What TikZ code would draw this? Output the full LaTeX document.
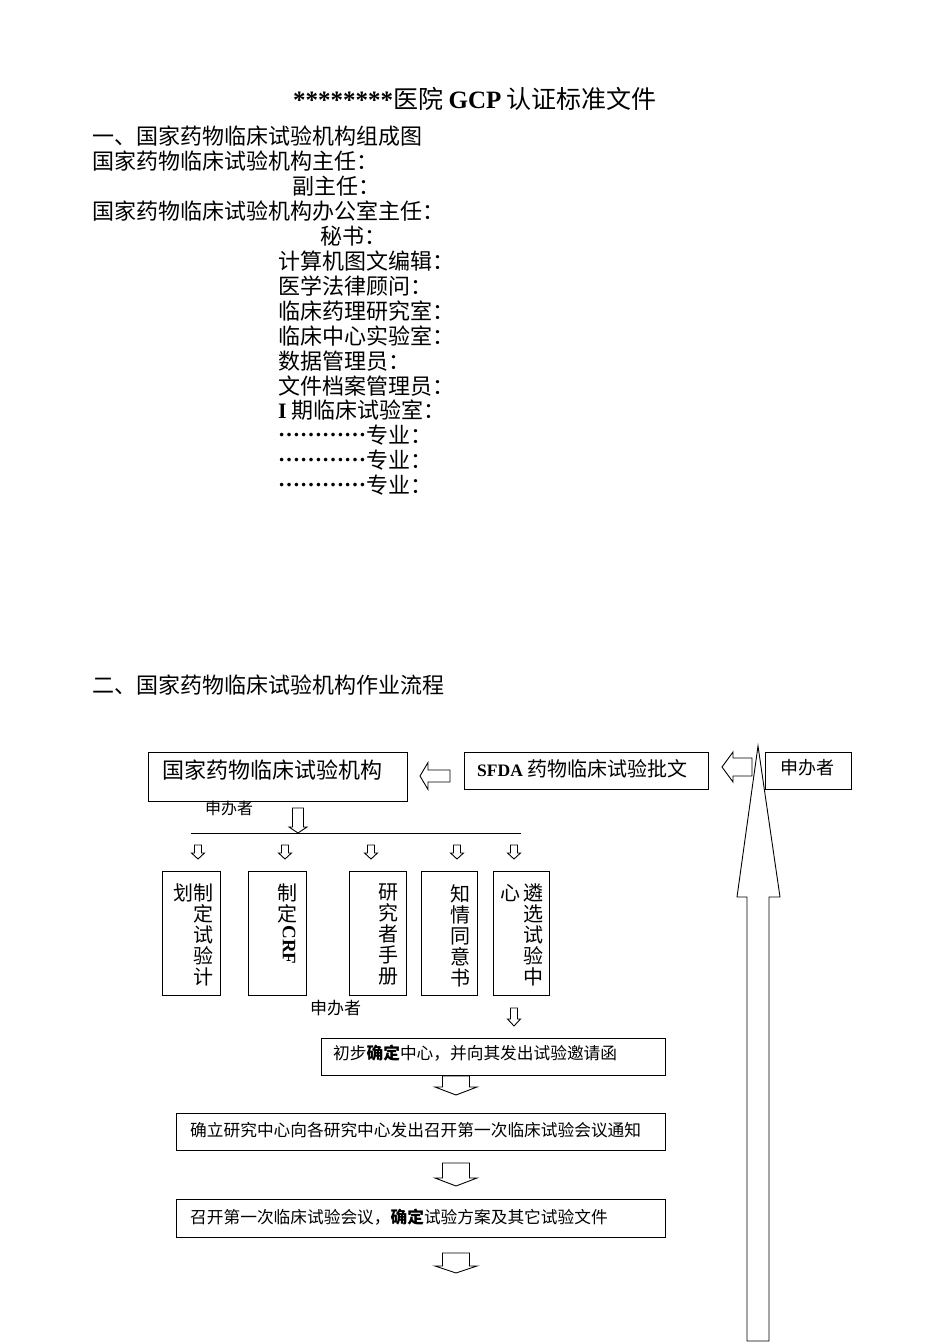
\documentclass[tikz,border=0pt]{standalone}
\usepackage{fontspec}
\setmainfont{Noto Sans CJK SC}
\newfontfamily\tnr{Liberation Serif}
\newcommand{\lat}[1]{{\tnr\bfseries #1}}
\newcommand{\points}{\raisebox{0.3em}[0pt][0pt]{\lat{…………}}}

% fleche creuse vers le bas : x, haut, base de la pointe, pointe, demi-corps, demi-pointe
\newcommand{\flechebas}[6]{%
  \draw[trait] (#1-#5,#2) -- (#1-#5,#3) -- (#1-#6,#3) -- (#1,#4) -- (#1+#6,#3) -- (#1+#5,#3) -- (#1+#5,#2) -- cycle;}
% fleche creuse vers la gauche : pointe, y, base de la pointe, bout, demi-corps, demi-pointe
\newcommand{\flechegauche}[6]{%
  \draw[trait] (#1,#2) -- (#3,#2-#6) -- (#3,#2-#5) -- (#4,#2-#5) -- (#4,#2+#5) -- (#3,#2+#5) -- (#3,#2+#6) -- cycle;}

\tikzset{
  trait/.style={line width=0.9pt},
  boite/.style={line width=1pt},
  ligne/.style={anchor=west, inner sep=0pt, font=\fontsize{22}{26}\selectfont},
  petit/.style={anchor=west, inner sep=0pt, font=\fontsize{16.7}{20}\selectfont},
  vert/.style={anchor=north, align=center, inner sep=0pt, font=\fontsize{20}{21}\selectfont},
}

\begin{document}
\begin{tikzpicture}[x=1pt, y=-1pt]
      \useasboundingbox (0,0) rectangle (950,1344);

      % titre
      \node[inner sep=0pt, font=\fontsize{25}{28}\selectfont] (titre) at (475,99) {\lat{********}医院 \lat{GCP} 认证标准文件};

      % composition de l'institution
      \node[ligne] (t1) at (92,136) {一、国家药物临床试验机构组成图};
      \node[ligne] (l1) at (92,161) {国家药物临床试验机构主任：};
      \node[ligne] (l2) at (292,186) {副主任：};
      \node[ligne] (l3) at (92,211) {国家药物临床试验机构办公室主任：};
      \node[ligne] (l4) at (320,236) {秘书：};
      \node[ligne] (l5) at (278,261) {计算机图文编辑：};
      \node[ligne] (l6) at (278,286) {医学法律顾问：};
      \node[ligne] (l7) at (278,311) {临床药理研究室：};
      \node[ligne] (l8) at (278,336) {临床中心实验室：};
      \node[ligne] (l9) at (278,361) {数据管理员：};
      \node[ligne] (l10) at (278,386) {文件档案管理员：};
      \node[ligne] (l11) at (278,410) {\lat{I} 期临床试验室：};
      \node[ligne] (l12) at (278,435) {\points 专业：};
      \node[ligne] (l13) at (278,460) {\points 专业：};
      \node[ligne] (l14) at (278,485) {\points 专业：};

      % flux de travail
      \node[ligne] (t2) at (92,685) {二、国家药物临床试验机构作业流程};

      % boites du haut
      \draw[boite] (148,752) rectangle (407,801);
      \draw[boite] (464,752) rectangle (708,789);
      \draw[boite] (765,752) rectangle (851,789);
      \node[ligne] (instit) at (162,770) {国家药物临床试验机构};
      \node[anchor=west, inner sep=0pt, font=\fontsize{20}{22}\selectfont] (sfda) at (477,769) {{\fontsize{17.5}{18}\selectfont\lat{SFDA}} 药物临床试验批文};
      \node[anchor=west, inner sep=0pt, font=\fontsize{18}{20}\selectfont] (sponsor) at (780,768) {申办者};
      \flechegauche{420}{776}{428}{450}{6}{13.5}
      \flechegauche{722}{767}{733}{752}{9}{15}

      % grande fleche de retour
      \draw[trait] (747,1341) -- (747,897) -- (737,897) -- (758,746) -- (780,897) -- (769,897) -- (769,1341) -- cycle;

      % repartition vers les documents
      \node[anchor=west, inner sep=0pt, font=\fontsize{16}{18}\selectfont] (sp1) at (205,808) {申办者};
      \flechebas{298}{808}{827}{833}{5.5}{9}
      \draw[trait] (191,833) -- (521,833);
      \flechebas{198}{845}{853}{859}{3.5}{6.5}
      \flechebas{285}{845}{853}{859}{3.5}{6.5}
      \flechebas{371}{845}{853}{859}{3.5}{6.5}
      \flechebas{457}{845}{853}{859}{3.5}{6.5}
      \flechebas{514}{845}{853}{859}{3.5}{6.5}

      % boites verticales
      \draw[boite] (162,871) rectangle (220,995);
      \draw[boite] (248,871) rectangle (306,995);
      \draw[boite] (349,871) rectangle (406,995);
      \draw[boite] (421,871) rectangle (477,995);
      \draw[boite] (493,871) rectangle (549,995);
      \node[vert] (plan) at (203,884) {制\\定\\试\\验\\计};
      \node[vert] (plan2) at (183,884) {划};
      \node[vert] (crf) at (287,884) {制\\定};
      \node[inner sep=0pt, rotate=-90, font=\fontsize{19}{20}\selectfont] (crf2) at (289,945) {\lat{CRF}};
      \node[vert] (manuel) at (388,884) {研\\究\\者\\手\\册};
      \node[vert] (consent) at (460,884) {知\\情\\同\\意\\书};
      \node[vert] (choix) at (533,884) {遴\\选\\试\\验\\中};
      \node[vert] (choix2) at (510,884) {心};

      % etapes suivantes
      \node[anchor=west, inner sep=0pt, font=\fontsize{17}{20}\selectfont] (sp2) at (310,1008) {申办者};
      \flechebas{514}{1008}{1019}{1026}{3.5}{6.5}

      \draw[boite] (321,1038) rectangle (665,1075);
      \node[petit] (e1) at (333,1053) {初步{\bfseries 确定}中心，并向其发出试验邀请函};
      \flechebas{456}{1076}{1087}{1095}{13.5}{21}

      \draw[boite] (176,1113) rectangle (665,1150);
      \node[petit] (e2) at (190,1130) {确立研究中心向各研究中心发出召开第一次临床试验会议通知};
      \flechebas{456}{1163}{1178}{1186}{13.5}{21}

      \draw[boite] (176,1199) rectangle (665,1237);
      \node[petit] (e3) at (190,1217) {召开第一次临床试验会议，{\bfseries 确定}试验方案及其它试验文件};
      \flechebas{456}{1253}{1266}{1273}{13.5}{21}
\end{tikzpicture}
\end{document}
